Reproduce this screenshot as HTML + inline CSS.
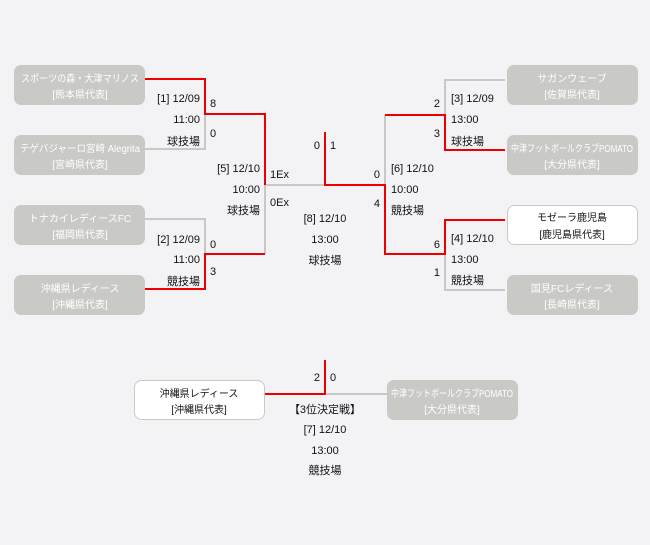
<!DOCTYPE html>
<html><head><meta charset="utf-8"><style>
html,body{margin:0;padding:0;background:#f3f2f5;}
svg{display:block;}
text{font-family:"Liberation Sans","Noto Sans CJK JP",sans-serif;font-size:11px;fill:#111;}
.b{font-size:10px;fill:#fff;text-anchor:middle;}
.bw{font-size:10px;fill:#111;text-anchor:middle;}
.e{text-anchor:end;}
.m{text-anchor:middle;}
</style></head><body>
<svg width="650" height="545" xmlns="http://www.w3.org/2000/svg">
<rect width="650" height="545" fill="#f3f2f5"/>
<g fill="none" stroke-width="2">
<path d="M145 149H205V114" stroke="#c8c8c8"/>
<path d="M145 219H205V254" stroke="#c8c8c8"/>
<path d="M265 184V254M265 185H325" stroke="#c8c8c8"/>
<path d="M385 185V115M445 115V80H505M445 254V290H505" stroke="#c8c8c8"/>
<path d="M325 394H387" stroke="#c8c8c8"/>
<path d="M145 79H205V114H265V185M145 289H205V254H265" stroke="#e00"/>
<path d="M325 132V185H385V254H445V220H505M385 115H445V150H505" stroke="#e00"/>
<path d="M264 394H325V360" stroke="#e00"/>
</g>
<g fill="#c9c9c6">
<rect x="14" y="65" width="131" height="40" rx="7"/>
<rect x="14" y="135" width="131" height="40" rx="7"/>
<rect x="14" y="205" width="131" height="40" rx="7"/>
<rect x="14" y="275" width="131" height="40" rx="7"/>
<rect x="507" y="65" width="131" height="40" rx="7"/>
<rect x="507" y="135" width="131" height="40" rx="7"/>
<rect x="507" y="275" width="131" height="40" rx="7"/>
<rect x="387" y="380" width="131" height="40" rx="7"/>
</g>
<rect x="507.5" y="205.5" width="130" height="39" rx="7" fill="#fff" stroke="#c9c9c6"/>
<rect x="134.5" y="380.5" width="130" height="39" rx="7" fill="#fff" stroke="#c9c9c6"/>
<text class="b" x="80" y="82" textLength="118" lengthAdjust="spacingAndGlyphs">スポーツの森・大津マリノス</text><text class="b" x="80" y="98">[熊本県代表]</text>
<text class="b" x="80" y="152" textLength="120" lengthAdjust="spacingAndGlyphs">テゲバジャーロ宮崎 Alegrita</text><text class="b" x="80" y="168">[宮崎県代表]</text>
<text class="b" x="80" y="222">トナカイレディースFC</text><text class="b" x="80" y="238">[福岡県代表]</text>
<text class="b" x="80" y="292">沖縄県レディース</text><text class="b" x="80" y="308">[沖縄県代表]</text>
<text class="b" x="572" y="82">サガンウェーブ</text><text class="b" x="572" y="98">[佐賀県代表]</text>
<text class="b" x="572" y="152" textLength="122" lengthAdjust="spacingAndGlyphs">中津フットボールクラブPOMATO</text><text class="b" x="572" y="168">[大分県代表]</text>
<text class="bw" x="572" y="221">モゼーラ鹿児島</text><text class="bw" x="572" y="238">[鹿児島県代表]</text>
<text class="b" x="572" y="292">国見FCレディース</text><text class="b" x="572" y="308">[長崎県代表]</text>
<text class="bw" x="199" y="397">沖縄県レディース</text><text class="bw" x="199" y="413">[沖縄県代表]</text>
<text class="b" x="452" y="397" textLength="122" lengthAdjust="spacingAndGlyphs">中津フットボールクラブPOMATO</text><text class="b" x="452" y="413">[大分県代表]</text>

<text class="e" x="200" y="102">[1] 12/09</text><text class="e" x="200" y="123">11:00</text><text class="e" x="200" y="145">球技場</text>
<text x="210" y="107">8</text><text x="210" y="137">0</text>
<text class="e" x="200" y="243">[2] 12/09</text><text class="e" x="200" y="263">11:00</text><text class="e" x="200" y="285">競技場</text>
<text x="210" y="248">0</text><text x="210" y="275">3</text>
<text class="e" x="260" y="172">[5] 12/10</text><text class="e" x="260" y="193">10:00</text><text class="e" x="260" y="214">球技場</text>
<text x="270" y="178">1Ex</text><text x="270" y="206">0Ex</text>
<text class="e" x="320" y="149">0</text><text x="330" y="149">1</text>
<text class="m" x="325" y="222">[8] 12/10</text><text class="m" x="325" y="243">13:00</text><text class="m" x="325" y="264">球技場</text>
<text class="e" x="380" y="178">0</text><text class="e" x="380" y="207">4</text>
<text x="391" y="172">[6] 12/10</text><text x="391" y="193">10:00</text><text x="391" y="214">競技場</text>
<text class="e" x="440" y="107">2</text><text class="e" x="440" y="137">3</text>
<text x="451" y="102">[3] 12/09</text><text x="451" y="123">13:00</text><text x="451" y="145">球技場</text>
<text class="e" x="440" y="248">6</text><text class="e" x="440" y="276">1</text>
<text x="451" y="242">[4] 12/10</text><text x="451" y="263">13:00</text><text x="451" y="284">競技場</text>
<text class="e" x="320" y="381">2</text><text x="330" y="381">0</text>
<text class="m" x="325" y="413">【3位決定戦】</text><text class="m" x="325" y="433">[7] 12/10</text><text class="m" x="325" y="454">13:00</text><text class="m" x="325" y="474">競技場</text>
</svg>
</body></html>
